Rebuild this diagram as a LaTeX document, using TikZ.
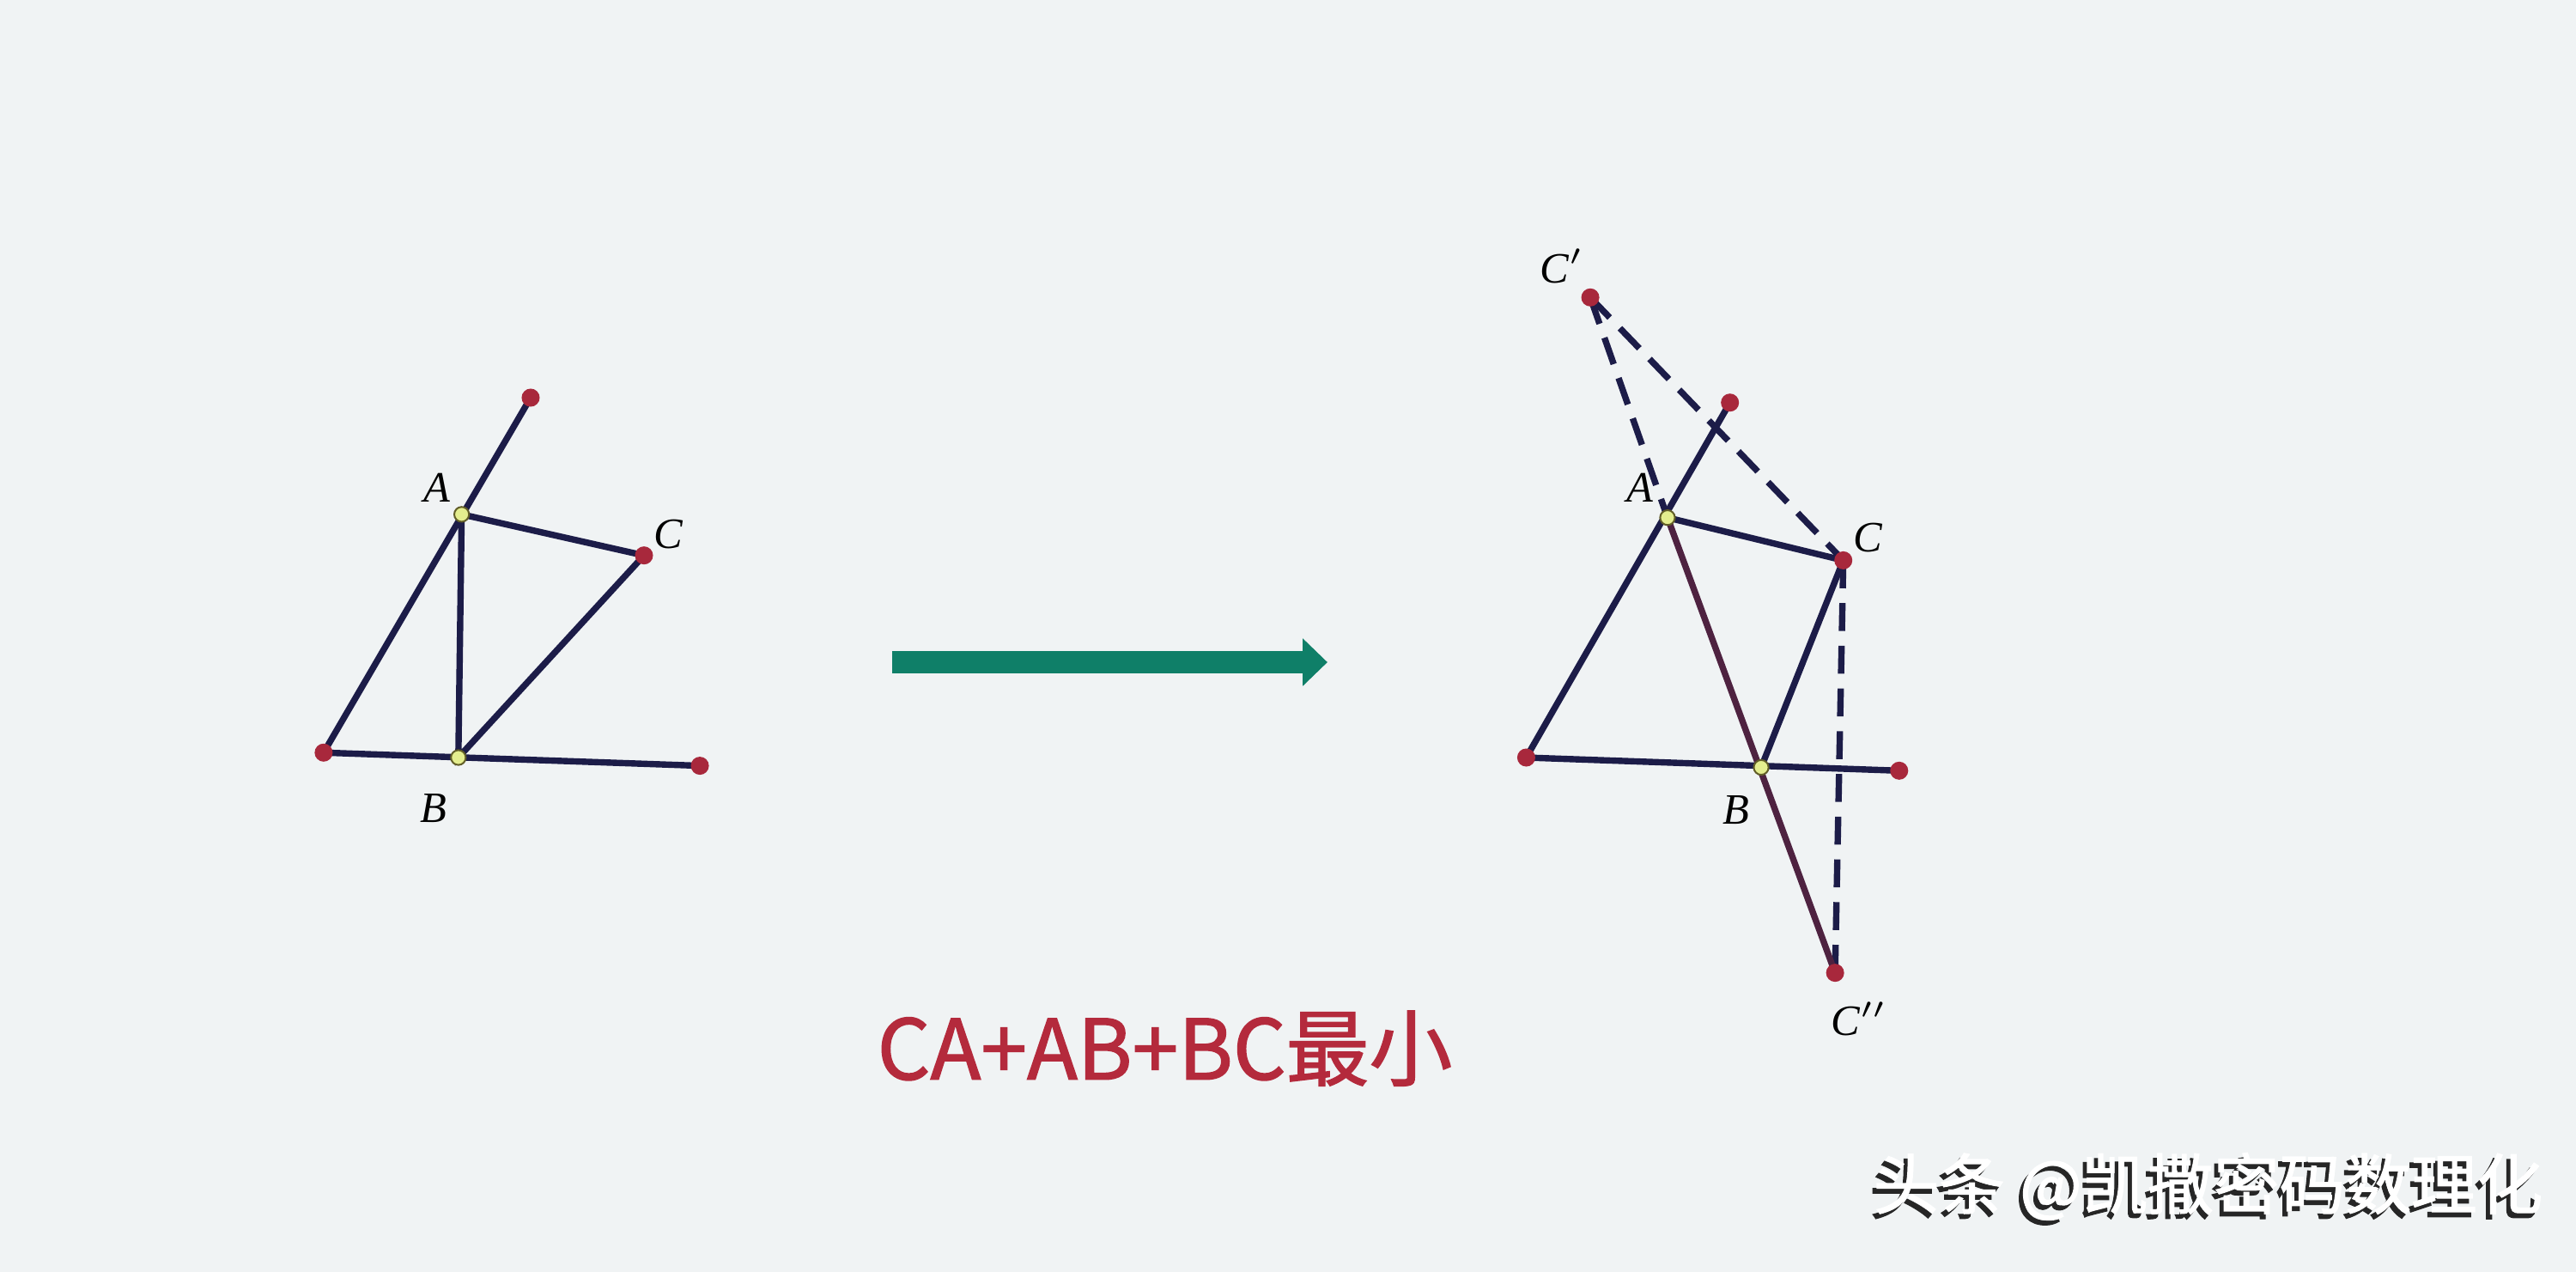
\documentclass[tikz,border=0pt]{standalone}
\usepackage{fontspec}
\newfontfamily\cjk[FakeBold=1.5]{Noto Sans CJK SC}
\newfontfamily\ptfont{Liberation Serif}
\usetikzlibrary{arrows.meta}
\definecolor{bgpaper}{HTML}{F0F3F4}
\definecolor{segnavy}{HTML}{1C1C48}
\definecolor{tracered}{HTML}{4E2240}
\definecolor{ptred}{HTML}{A8283C}
\definecolor{ptyellow}{HTML}{E4EE8E}
\definecolor{arrowteal}{HTML}{0F7F68}
\definecolor{captionred}{HTML}{B42A3C}

\begin{document}
\begin{tikzpicture}[seg/.style={segnavy,line width=1.1pt},
  aux/.style={segnavy,line width=1.1pt,dash pattern=on 0.17cm off 0.09cm},
  lbl/.style={font=\ptfont\itshape\fontsize{7.5}{8}\selectfont,inner sep=0pt}]
\fill[bgpaper] (0,0) rectangle (15.68,-7.74);
\useasboundingbox (0,0) rectangle (15.68,-7.74);

% left figure
\coordinate (lP) at (3.23,-2.42);
\coordinate (lA) at (2.81,-3.13);
\coordinate (lC) at (3.92,-3.38);
\coordinate (lQ) at (1.97,-4.58);
\coordinate (lB) at (2.79,-4.61);
\coordinate (lR) at (4.26,-4.66);
\draw[seg] (lQ) -- (lP);
\draw[seg] (lQ) -- (lR);
\draw[seg] (lA) -- (lC) -- (lB) -- (lA);
\foreach \p in {lP,lC,lQ,lR}
  \fill[ptred] (\p) circle (0.055);
\foreach \p in {lA,lB}
  \filldraw[fill=ptyellow,draw=olive!60!black,line width=0.3pt] (\p) circle (0.045);
\node[lbl] (lAtxt) at (2.66,-2.97) {A};
\node[lbl] (lCtxt) at (4.07,-3.25) {C};
\node[lbl] (lBtxt) at (2.64,-4.92) {B};

% arrow
\coordinate (go1) at (5.43,-4.03);
\coordinate (go2) at (8.08,-4.03);
\draw[arrowteal,line width=0.14cm,-{Triangle[length=0.15cm,width=0.28cm]}] (go1) -- (go2);

% right figure
\coordinate (rC1) at (9.68,-1.81);
\coordinate (rP) at (10.53,-2.45);
\coordinate (rA) at (10.15,-3.15);
\coordinate (rC) at (11.22,-3.41);
\coordinate (rQ) at (9.29,-4.61);
\coordinate (rB) at (10.72,-4.67);
\coordinate (rR) at (11.56,-4.69);
\coordinate (rC2) at (11.17,-5.92);
\draw[aux] (rC1) -- (rA);
\draw[aux] (rC1) -- (rC);
\draw[aux] (rC) -- (rC2);
\draw[seg] (rQ) -- (rP);
\draw[seg] (rQ) -- (rR);
\draw[seg] (rA) -- (rC) -- (rB);
\draw[seg,tracered] (rA) -- (rC2);
\foreach \p in {rC1,rP,rC,rQ,rR,rC2}
  \fill[ptred] (\p) circle (0.055);
\foreach \p in {rA,rB}
  \filldraw[fill=ptyellow,draw=olive!60!black,line width=0.3pt] (\p) circle (0.045);
\node[lbl] (rC1txt) at (9.51,-1.62) {C$'$};
\node[lbl] (rAtxt) at (9.98,-2.97) {A};
\node[lbl] (rCtxt) at (11.37,-3.27) {C};
\node[lbl] (rBtxt) at (10.57,-4.93) {B};
\node[lbl] (rC2txt) at (11.32,-6.20) {C$''$};

% caption and watermark
\node[captionred,font=\cjk\fontsize{14.4}{16}\selectfont] (caption) at (7.09,-6.38) {CA+AB+BC最小};
\node[black!85,font=\cjk\fontsize{11.4}{13}\selectfont] (markshadow) at (13.415,-7.25) {头条 @凯撒密码数理化};
\node[white,font=\cjk\fontsize{11.4}{13}\selectfont] (mark) at (13.44,-7.22) {头条 @凯撒密码数理化};
\end{tikzpicture}
\end{document}
